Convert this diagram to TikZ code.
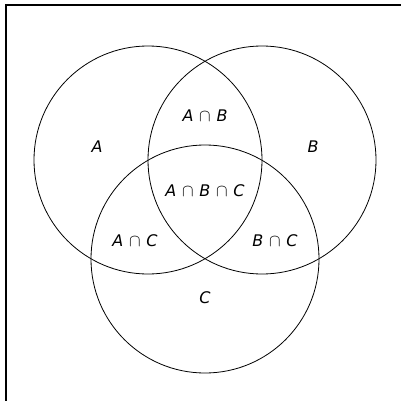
\documentclass[tikz,border=0pt]{standalone}
\usepackage{fontspec}
\setmainfont{DejaVu Sans}
\newcommand{\capsym}{\hspace{0.36em}\ensuremath{\cap}\hspace{0.36em}}
\begin{document}
\begin{tikzpicture}[x=1pt,y=-1pt,
  setcircle/.style={draw=black,line width=0.8pt},
  setlabel/.style={font=\fontsize{16}{19}\selectfont\itshape,inner sep=0pt}]
\useasboundingbox (0,0) rectangle (401,401);
\draw[line width=1.2pt] (6,401) -- (6,5) -- (401,5);
\node[setcircle,circle,minimum size=228pt,inner sep=0pt] (ca) at (148,160) {};
\node[setcircle,circle,minimum size=228pt,inner sep=0pt] (cb) at (262,160) {};
\node[setcircle,circle,minimum size=228pt,inner sep=0pt] (cc) at (205,259) {};
\node[setlabel] (la) at (97,147) {A};
\node[setlabel] (lb) at (313,147) {B};
\node[setlabel] (lab) at (205,116) {A\capsym B};
\node[setlabel] (labc) at (205,191) {A\capsym B\capsym C};
\node[setlabel] (lac) at (135,241) {A\capsym C};
\node[setlabel] (lbc) at (275,241) {B\capsym C};
\node[setlabel] (lc) at (205,298) {C};
\end{tikzpicture}
\end{document}
